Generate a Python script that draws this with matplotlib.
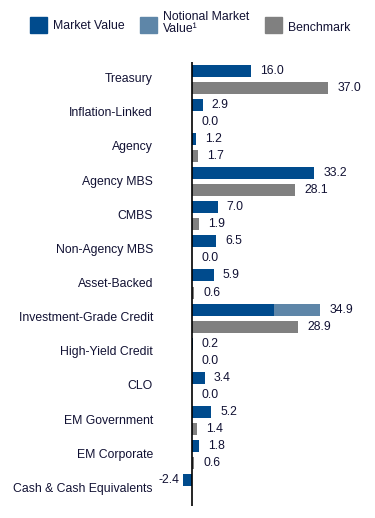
import matplotlib
matplotlib.use('Agg')
import matplotlib.pyplot as plt
from matplotlib.patches import Rectangle

categories = ['Treasury', 'Inflation-Linked', 'Agency', 'Agency MBS', 'CMBS',
              'Non-Agency MBS', 'Asset-Backed', 'Investment-Grade Credit',
              'High-Yield Credit', 'CLO', 'EM Government', 'EM Corporate',
              'Cash & Cash Equivalents']
market_value = [16.0, 2.9, 1.2, 33.2, 7.0, 6.5, 5.9, 22.3, 0.2, 3.4, 5.2, 1.8, -2.4]
notional = [0, 0, 0, 0, 0, 0, 0, 12.6, 0, 0, 0, 0, 0]
benchmark = [37.0, 0.0, 1.7, 28.1, 1.9, 0.0, 0.6, 28.9, 0.0, 0.0, 1.4, 0.6, None]

blue = '#004B8D'
light_blue = '#5E86A8'
grey = '#808080'
txt = '#111133'

plt.rcParams['font.family'] = ['Liberation Sans', 'DejaVu Sans']

fig = plt.figure(figsize=(3.75, 5.18), dpi=100)
ax = fig.add_axes([150 / 375, 12 / 518, 220 / 375, 444 / 518])

h = 0.35
off = 0.25
ys = list(range(len(categories)))
yb = [y - off for y in ys]
yg = [y + off for y in ys]

ax.barh(yb, market_value, height=h, color=blue)
ax.barh(yb, notional, left=market_value, height=h, color=light_blue)
bench_vals = [b if b is not None else 0 for b in benchmark]
ax.barh(yg, bench_vals, height=h, color=grey)

fs = 8.8
for i, cat in enumerate(categories):
    total = market_value[i] + notional[i]
    if total >= 0:
        ax.annotate(f'{total:.1f}', (total, yb[i]), xytext=(6.5, 0),
                    textcoords='offset points', va='center', ha='left',
                    fontsize=fs, color=txt)
    else:
        ax.annotate(f'{total:.1f}', (total, yb[i]), xytext=(-3, 0),
                    textcoords='offset points', va='center', ha='right',
                    fontsize=fs, color=txt)
    if benchmark[i] is not None:
        ax.annotate(f'{benchmark[i]:.1f}', (benchmark[i], yg[i]), xytext=(6.5, 0),
                    textcoords='offset points', va='center', ha='left',
                    fontsize=fs, color=txt)
    ax.text(-10.6, ys[i], cat, ha='right', va='center', fontsize=fs, color=txt)

ax.axvline(0, color='black', lw=1.2)
ax.set_xlim(-11.41, 48.37)
ax.set_ylim(len(categories) - 0.5, -0.5)
ax.axis('off')

# legend
def legend_box(x, color):
    fig.patches.append(Rectangle((x / 375, 1 - 33 / 518), 17 / 375, 16 / 518,
                                 transform=fig.transFigure, color=color))

legend_box(30, blue)
legend_box(140, light_blue)
legend_box(265, grey)
fig.text(53 / 375, 1 - 26 / 518, 'Market Value', ha='left', va='center', fontsize=fs, color=txt)
fig.text(163 / 375, 1 - 23 / 518, 'Notional Market\nValue\u00b9', ha='left', va='center',
         fontsize=fs, color=txt, linespacing=0.95)
fig.text(288 / 375, 1 - 28 / 518, 'Benchmark', ha='left', va='center', fontsize=fs, color=txt)

fig.savefig('out.png', dpi=100)
